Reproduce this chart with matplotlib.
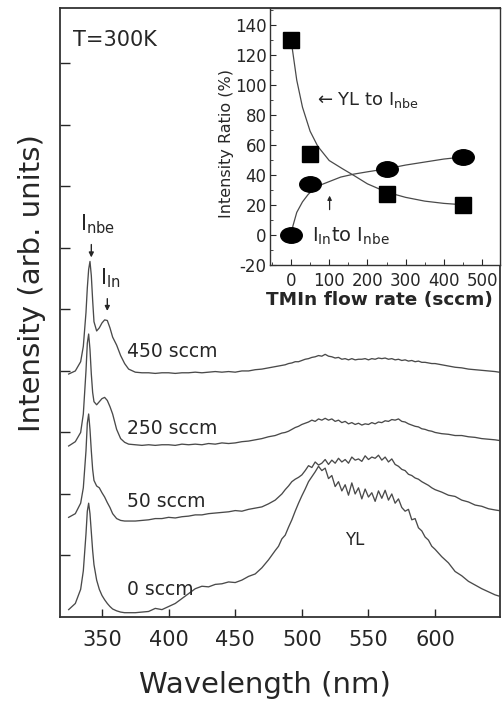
import matplotlib
matplotlib.use('Agg')
import matplotlib.pyplot as plt
from matplotlib.path import Path
from matplotlib.ticker import MultipleLocator

plt.rcParams['font.family'] = ['DejaVu Sans']
plt.rcParams['mathtext.fontset'] = 'dejavusans'
plt.rcParams['axes.unicode_minus'] = False

# ---------------- main spectra data ----------------
wavelength = [325, 330, 334, 336, 338, 339, 340, 341, 342, 343, 344, 346, 348, 350, 352, 354, 356, 358, 361, 364, 367,
              370, 375, 380, 385, 390, 395, 400, 405, 410, 415, 420, 425, 430, 435, 440, 445, 450, 455, 460, 465, 470, 475,
              480, 482.5, 485, 487.5, 490, 492.5, 495, 497.5, 500, 502.5, 505, 507.5, 510, 512.5, 515, 517.5, 520, 522.5,
              525, 527.5, 530, 532.5, 535, 537.5, 540, 542.5, 545, 547.5, 550, 552.5, 555, 557.5, 560, 562.5, 565, 567.5,
              570, 572.5, 575, 577.5, 580, 582.5, 585, 587.5, 590, 592.5, 595, 597.5,
              600, 605, 610, 615, 620, 625, 630, 635, 640, 645, 648]

pl_0sccm = [0.12, 0.22, 0.45, 0.75, 1.35, 1.72, 1.85, 1.68, 1.38, 1.08, 0.85, 0.6, 0.45, 0.35, 0.28, 0.22, 0.17, 0.13, 0.1, 0.08, 0.07,
            0.07, 0.07, 0.08, 0.09, 0.14, 0.12, 0.17, 0.22, 0.3, 0.38, 0.46, 0.5, 0.49, 0.53, 0.54, 0.57, 0.56, 0.6, 0.66, 0.7, 0.8, 0.93,
            1.08, 1.15, 1.27, 1.33, 1.46, 1.58, 1.72, 1.85, 1.97, 2.08, 2.2, 2.28, 2.36, 2.45, 2.38, 2.42, 2.25, 2.3, 2.12, 2.2,
            2.05, 2.15, 1.98, 2.18, 2.0, 2.1, 1.92, 2.08, 1.95, 2.02, 1.88, 2.05, 1.93, 2.06, 1.9, 2.0, 1.85, 1.92, 1.78, 1.72,
            1.75, 1.58, 1.6, 1.45, 1.4, 1.3, 1.25, 1.15,
            1.1, 0.98, 0.88, 0.74, 0.67, 0.58, 0.52, 0.46, 0.41, 0.36, 0.34]

pl_50sccm = [1.62, 1.68, 1.85, 2.1, 2.7, 3.15, 3.3, 3.05, 2.7, 2.4, 2.22, 2.13, 2.1, 2.02, 1.95, 1.86, 1.78, 1.68, 1.6, 1.57, 1.56,
             1.56, 1.56, 1.57, 1.58, 1.6, 1.6, 1.62, 1.61, 1.63, 1.64, 1.66, 1.66, 1.68, 1.69, 1.7, 1.71, 1.73, 1.72, 1.75, 1.77, 1.79, 1.84,
             1.9, 1.95, 2.0, 2.07, 2.13, 2.2, 2.24, 2.27, 2.31, 2.38, 2.46, 2.43, 2.52, 2.47, 2.5, 2.56, 2.48, 2.55, 2.5, 2.58,
             2.52, 2.56, 2.5, 2.6, 2.55, 2.57, 2.53, 2.62, 2.56, 2.6, 2.58, 2.63, 2.55, 2.6, 2.52, 2.57, 2.48, 2.45, 2.4, 2.38,
             2.32, 2.3, 2.26, 2.24, 2.2, 2.17, 2.14, 2.1,
             2.07, 2.03, 1.98, 1.96, 1.9, 1.87, 1.82, 1.8, 1.76, 1.74, 1.73]

pl_250sccm = [2.78, 2.85, 3.0, 3.3, 4.0, 4.45, 4.6, 4.35, 3.95, 3.65, 3.5, 3.45, 3.5, 3.55, 3.57, 3.52, 3.42, 3.3, 3.05, 2.9, 2.84,
              2.81, 2.8, 2.79, 2.8, 2.79, 2.8, 2.8, 2.79, 2.81, 2.8, 2.81, 2.8, 2.82, 2.81, 2.83, 2.82, 2.83, 2.85, 2.86, 2.88, 2.9, 2.93,
              2.95, 2.97, 2.99, 3.0, 3.02, 3.05, 3.08, 3.1, 3.13, 3.15, 3.17, 3.2, 3.18, 3.22, 3.2, 3.23, 3.2, 3.22, 3.18, 3.2,
              3.16, 3.18, 3.14, 3.16, 3.13, 3.15, 3.12, 3.14, 3.13, 3.16, 3.14, 3.17, 3.16, 3.19, 3.18, 3.21, 3.2, 3.22, 3.18, 3.17,
              3.14, 3.12, 3.1, 3.09, 3.06, 3.05, 3.03, 3.02,
              3.0, 2.98, 2.97, 2.95, 2.95, 2.93, 2.92, 2.9, 2.89, 2.88, 2.87]

pl_450sccm = [3.95, 4.0, 4.15, 4.4, 4.95, 5.35, 5.65, 5.78, 5.55, 5.15, 4.8, 4.65, 4.7, 4.78, 4.83, 4.82, 4.7, 4.55, 4.42, 4.25, 4.12,
              4.03, 3.98, 3.97, 3.97, 3.96, 3.97, 3.97, 3.96, 3.97, 3.97, 3.98, 3.97, 3.98, 3.99, 3.98, 3.99, 3.98, 4.0, 4.0, 4.02, 4.03, 4.05,
              4.07, 4.08, 4.09, 4.1, 4.12, 4.13, 4.15, 4.15, 4.17, 4.19, 4.2, 4.22, 4.23, 4.25, 4.24, 4.27, 4.24, 4.23, 4.21, 4.22,
              4.19, 4.2, 4.18, 4.2, 4.18, 4.19, 4.19, 4.2, 4.18, 4.2, 4.19, 4.21, 4.2, 4.21, 4.19, 4.2, 4.18, 4.19, 4.17, 4.18,
              4.16, 4.17, 4.15, 4.16, 4.14, 4.14, 4.13, 4.12,
              4.12, 4.1, 4.08, 4.06, 4.05, 4.03, 4.02, 4.01, 4.0, 3.99, 3.98]

series_labels = ['0 sccm', '50 sccm', '250 sccm', '450 sccm']
label_y = [0.44, 1.87, 3.07, 4.31]
x_ticks = [350, 400, 450, 500, 550, 600]

# ---------------- inset data ----------------
flow_rate = [0, 50, 250, 450]
yl_ratio = [130, 54, 27, 20]
in_ratio = [0, 34, 44, 52]
yl_fit_x = [0, 15, 30, 50, 70, 100, 135, 165, 200, 250, 300, 350, 400, 455]
yl_fit_y = [130, 103, 85, 69, 59, 49.5, 44, 39.5, 34, 28.5, 25, 22.5, 21, 20]
in_fit_x = [0, 5, 15, 30, 45, 60, 80, 100, 130, 165, 200, 250, 300, 350, 400, 455]
in_fit_y = [0, 6, 15, 22, 27, 30.5, 33.5, 35.5, 38.5, 40.5, 42, 44, 46.5, 48.5, 50.5, 52]
inset_xticks = [0, 100, 200, 300, 400, 500]
inset_yticks = [-20, 0, 20, 40, 60, 80, 100, 120, 140]

ink = '#262626'
line_col = '#4a4a4a'

fig = plt.figure(figsize=(5.03, 7.04), dpi=100)
ax = fig.add_axes([60/503, 87/704, 440/503, 609/704])

for ys in (pl_0sccm, pl_50sccm, pl_250sccm, pl_450sccm):
    ax.plot(wavelength, ys, color=line_col, lw=0.95)

ax.set_xlim(318.5, 648.7)
ax.set_ylim(0, 9.9)
ax.set_xticks(x_ticks)
ax.set_xticklabels([str(t) for t in x_ticks])
ax.set_yticks(range(1, 10))
ax.set_yticklabels([])
ax.tick_params(axis='x', direction='in', length=6, width=1, labelsize=15, pad=9, colors=ink)
ax.tick_params(axis='y', direction='in', length=7, width=1, colors=ink)
for s in ax.spines.values():
    s.set_linewidth(1.3)
    s.set_color('#333333')

for lab, yv in zip(series_labels, label_y):
    ax.text(368.8, yv, lab, fontsize=13.5, color=ink, ha='left', va='center')

ax.text(328.3, 9.38, 'T=300K', fontsize=15, color=ink, ha='left', va='center')
ax.text(539.8, 1.25, 'YL', fontsize=12, color=ink, ha='center', va='center')

ax.text(333.5, 6.29, r'I$_{\mathregular{nbe}}$', fontsize=15, color=ink, ha='left', va='baseline')
ax.annotate('', xy=(342, 5.8), xytext=(342, 6.1),
            arrowprops=dict(arrowstyle='-|>', lw=1, color=ink, mutation_scale=7))
ax.text(348.5, 5.4, r'I$_{\mathregular{In}}$', fontsize=15, color=ink, ha='left', va='baseline')
ax.annotate('', xy=(354, 4.93), xytext=(354, 5.22),
            arrowprops=dict(arrowstyle='-|>', lw=1, color=ink, mutation_scale=7))

fig.text(265/503, 1 - 685/704, 'Wavelength (nm)', fontsize=21, color=ink, ha='center', va='center')
fig.text(32/503, 1 - 283/704, 'Intensity (arb. units)', fontsize=21, color=ink,
         ha='center', va='center', rotation=90)

# ---------------- inset ----------------
ax2 = fig.add_axes([270/503, (704 - 265)/704, 230/503, 257/704])
circ = Path.unit_circle()
ellipse = Path(circ.vertices * [1.0, 0.72], circ.codes)

ax2.plot(yl_fit_x, yl_fit_y, color=line_col, lw=0.9)
ax2.plot(in_fit_x, in_fit_y, color=line_col, lw=0.9)
ax2.plot(flow_rate, yl_ratio, ls='none', marker='s', ms=11.5, color='black')
ax2.plot(flow_rate, in_ratio, ls='none', marker=ellipse, ms=15.5, color='black')

ax2.set_xlim(-55, 547)
ax2.set_ylim(-20, 151)
ax2.set_xticks(inset_xticks)
ax2.set_yticks(inset_yticks)
ax2.xaxis.set_minor_locator(MultipleLocator(50))
ax2.yaxis.set_minor_locator(MultipleLocator(10))
ax2.tick_params(which='both', direction='in', colors=ink, labelsize=12)
ax2.tick_params(which='major', length=4, width=0.8)
ax2.tick_params(which='minor', length=2, width=0.6)
ax2.tick_params(axis='x', pad=5)
ax2.tick_params(axis='y', pad=2.5)
for s in ax2.spines.values():
    s.set_linewidth(1.0)
    s.set_color('#333333')

ax2.text(68, 90, r'← YL to I$_{\mathregular{nbe}}$', fontsize=13, color=ink, ha='left', va='center')
ax2.text(56, -4.7, r'I$_{\mathregular{In}}$to I$_{\mathregular{nbe}}$', fontsize=14, color=ink,
         ha='left', va='baseline')
ax2.annotate('', xy=(101, 28), xytext=(101, 15),
             arrowprops=dict(arrowstyle='-|>', lw=0.9, color=ink, mutation_scale=6))

fig.text(226/503, 1 - 144/704, 'Intensity Ratio (%)', fontsize=11.5, color=ink,
         ha='center', va='center', rotation=90)
fig.text(266/503, 1 - 300/704, 'TMIn flow rate (sccm)', fontsize=13.3, fontweight='bold',
         color=ink, ha='left', va='center')

fig.savefig('out.png', dpi=100, facecolor='white')
